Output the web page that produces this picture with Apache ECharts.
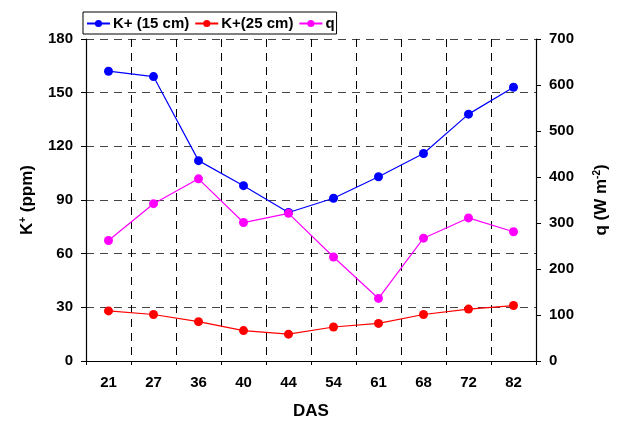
<!DOCTYPE html>
<html>
<head>
<meta charset="utf-8">
<script src="https://cdn.jsdelivr.net/npm/echarts@6/dist/echarts.min.js"></script>
<style>
  html, body { margin: 0; padding: 0; background: #fff; }
  #chart { width: 618px; height: 425px; }
</style>
</head>
<body>
<div id="chart"></div>
<script>
// Days after sowing
const das = ['21', '27', '36', '40', '44', '54', '61', '68', '72', '82'];
// Soil K+ concentration (ppm) at two depths
const k15 = [162, 159, 112, 98, 83, 91, 103, 116, 138, 153];
const k25 = [28, 26, 22, 17, 15, 19, 21, 26, 29, 31];
// Heat flux q (W m-2)
const qFlux = [262, 342, 396, 301, 321, 226, 136, 267, 311, 281];

const FONT = 'Liberation Sans, Arial, sans-serif';
const chart = echarts.init(document.getElementById('chart'), null, { renderer: 'canvas' });

function lineSeries(name, data, color, yAxisIndex) {
  return {
    name, type: 'line', data, yAxisIndex,
    symbol: 'circle', symbolSize: 9,
    itemStyle: { color },
    lineStyle: { color, width: 1.2 },
    emphasis: { disabled: true },
    animation: false
  };
}

chart.setOption({
  animation: false,
  textStyle: { fontFamily: FONT, color: '#000' },
  grid: { left: 86, right: 80, top: 39, bottom: 61, containLabel: false },
  legend: {
    left: 83, top: 12,
    padding: [4, 2, 3, 3],
    itemWidth: 23, itemHeight: 9, itemGap: 5,
    borderColor: '#000', borderWidth: 1,
    textStyle: { fontFamily: FONT, fontWeight: 'bold', fontSize: 15, color: '#000', padding: [0, 0, 0, -2] },
    data: ['K+ (15 cm)', 'K+(25 cm)', 'q']
  },
  xAxis: {
    type: 'category', data: das, boundaryGap: true,
    name: 'DAS', nameLocation: 'middle', nameGap: 42,
    nameTextStyle: { fontFamily: FONT, fontWeight: 'bold', fontSize: 17, color: '#000' },
    axisLine: { lineStyle: { color: '#000', width: 1.2 } },
    axisTick: { show: true, length: 4, lineStyle: { color: '#000' } },
    axisLabel: { fontFamily: FONT, fontWeight: 'bold', fontSize: 15, color: '#000', margin: 14 },
    splitLine: { show: true, lineStyle: { color: '#000', type: [8, 6], width: 1 } }
  },
  yAxis: [
    {
      type: 'value', min: 0, max: 180, interval: 30, position: 'left',
      name: '{b|K}{s|+}{b| (ppm)}', nameLocation: 'middle', nameRotate: 90, nameGap: 49,
      nameTextStyle: {
        rich: {
          b: { fontFamily: FONT, fontWeight: 'bold', fontSize: 17, color: '#000' },
          s: { fontFamily: FONT, fontWeight: 'bold', fontSize: 10, color: '#000', padding: [0, 0, 9, 0] }
        }
      },
      axisLine: { show: true, lineStyle: { color: '#000', width: 1.2 } },
      axisTick: { show: true, length: 5, lineStyle: { color: '#000' } },
      axisLabel: { fontFamily: FONT, fontWeight: 'bold', fontSize: 15, color: '#000', margin: 13 },
      splitLine: { show: true, lineStyle: { color: '#444', type: [8, 6], width: 1 } }
    },
    {
      type: 'value', min: 0, max: 700, interval: 100, position: 'right',
      name: '{b|q (W m}{s|-2}{b|)}', nameLocation: 'middle', nameRotate: 90, nameGap: 56,
      nameTextStyle: {
        rich: {
          b: { fontFamily: FONT, fontWeight: 'bold', fontSize: 17, color: '#000' },
          s: { fontFamily: FONT, fontWeight: 'bold', fontSize: 10, color: '#000', padding: [0, 0, 9, 0] }
        }
      },
      axisLine: { show: true, lineStyle: { color: '#000', width: 1.2 } },
      axisTick: { show: true, length: 5, lineStyle: { color: '#000' } },
      axisLabel: { fontFamily: FONT, fontWeight: 'bold', fontSize: 15, color: '#000', margin: 13 },
      splitLine: { show: false }
    }
  ],
  series: [
    lineSeries('K+ (15 cm)', k15, '#0000ff', 0),
    lineSeries('K+(25 cm)', k25, '#ff0000', 0),
    lineSeries('q', qFlux, '#ff00ff', 1)
  ]
});
</script>
</body>
</html>
